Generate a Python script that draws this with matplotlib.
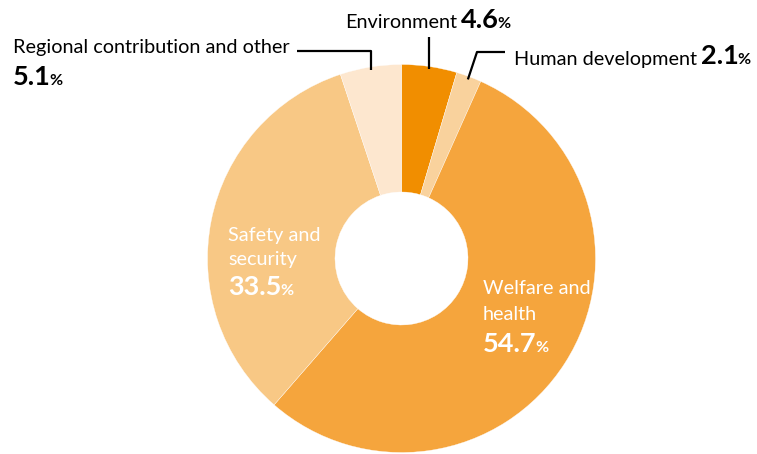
import numpy as np
import matplotlib
matplotlib.use("Agg")
import matplotlib.pyplot as plt

# data, clockwise from 12 o'clock
names = ["Environment", "Human development", "Welfare and health",
         "Safety and security", "Regional contribution and other"]
shares = [4.6, 2.1, 54.7, 33.5, 5.1]
colors = ["#F18E00", "#F9D29D", "#F5A53D", "#F8C885", "#FDE7CF"]

W, H = 757, 454
FONT = "Lato"

fig = plt.figure(figsize=(W / 100, H / 100), dpi=100)
ax = fig.add_axes([0, 0, 1, 1])

def py(y):
    # pixel row (from top) -> data y
    return H - y

cx, cy, R, r_in = 401.5, 258.5, 194, 66.5

ax.pie(shares, colors=colors, startangle=90, counterclock=False,
       center=(cx, py(cy)), radius=R, frame=True,
       wedgeprops=dict(width=R - r_in, edgecolor="white", linewidth=0.25))
ax.set_xlim(0, W)
ax.set_ylim(0, H)
ax.set_aspect("equal")
ax.axis("off")

renderer = fig.canvas.get_renderer()

def label(x, y, parts, color="black"):
    # parts: list of (text, size, weight, gap_before)
    for text, size, weight, gap in parts:
        x += gap
        t = ax.text(x, py(y), text, fontsize=size, fontweight=weight,
                    family=FONT, color=color, ha="left", va="baseline")
        bb = t.get_window_extent(renderer)
        x += bb.width

def ring_point(i, rad):
    start = sum(shares[:i])
    mid = (start + shares[i] / 2) / 100 * 2 * np.pi
    return cx + rad * np.sin(mid), cy - rad * np.cos(mid)

REG, BIG, PCT = 14.3, 19.5, 11.5

# outside labels
label(13, 52.5, [(names[4], REG, "normal", 0)])
label(13, 85, [("%.1f" % shares[4], BIG, "bold", 0), ("%", PCT, "bold", -1)])
label(345, 28.5, [(names[0], REG, "normal", 0), ("%.1f" % shares[0], BIG, "bold", 4),
                  ("%", PCT, "bold", -1)])
label(514, 64.5, [(names[1], REG, "normal", 0), ("%.1f" % shares[1], BIG, "bold", 4),
                  ("%", PCT, "bold", -1)])

# leader lines
lw = 1.6
ex, ey = ring_point(0, R - 3)
ax.plot([ex, ex], [py(37), py(ey)], color="black", lw=lw, solid_capstyle="butt")
hx, hy = ring_point(1, R - 3)
ax.plot([505, 477, hx], [py(52), py(52), py(hy)], color="black", lw=lw,
        solid_capstyle="butt")
gx, gy = ring_point(4, R - 3)
ax.plot([297, gx, gx], [py(50.7), py(50.7), py(gy)], color="black", lw=lw,
        solid_capstyle="butt")

# inside labels
label(228, 241.5, [("Safety and", REG, "normal", 0)], color="white")
label(228, 265, [("security", REG, "normal", 0)], color="white")
label(228, 295, [("%.1f" % shares[3], BIG, "bold", 0), ("%", PCT, "bold", -1)],
      color="white")
label(483, 294.5, [("Welfare and", REG, "normal", 0)], color="white")
label(483, 320, [("health", REG, "normal", 0)], color="white")
label(483, 351.5, [("%.1f" % shares[2], BIG, "bold", 0), ("%", PCT, "bold", -1)],
      color="white")

fig.savefig("out.png", dpi=100)
